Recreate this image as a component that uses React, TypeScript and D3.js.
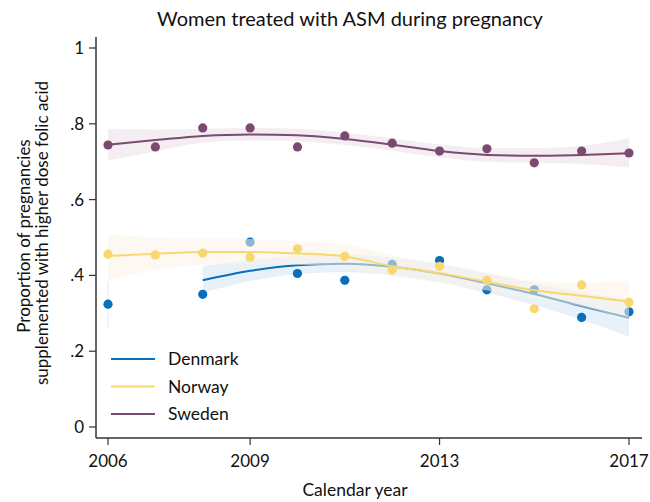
import React from 'react';
import * as d3 from 'd3';

// observed yearly proportions
const years = [2006, 2007, 2008, 2009, 2010, 2011, 2012, 2013, 2014, 2015, 2016, 2017];
const denmarkYears = [2006, 2008, 2009, 2010, 2011, 2012, 2013, 2014, 2015, 2016, 2017];
const denmarkObs = [0.324, 0.350, 0.488, 0.405, 0.387, 0.429, 0.439, 0.362, 0.362, 0.289, 0.304];
const norwayObs = [0.456, 0.454, 0.459, 0.448, 0.470, 0.450, 0.414, 0.424, 0.387, 0.312, 0.375, 0.329];
const swedenObs = [0.744, 0.739, 0.789, 0.789, 0.739, 0.768, 0.749, 0.728, 0.734, 0.697, 0.728, 0.723];

// smoothed fits with confidence bands
const denmarkFitYears = [2008, 2009, 2010, 2011, 2012, 2013, 2014, 2015, 2016, 2017];
const denmarkFit = [0.387, 0.412, 0.427, 0.431, 0.423, 0.405, 0.379, 0.351, 0.319, 0.288];
const denmarkLo = [0.354, 0.385, 0.403, 0.408, 0.400, 0.382, 0.354, 0.322, 0.283, 0.238];
const denmarkHi = [0.425, 0.440, 0.452, 0.455, 0.447, 0.430, 0.405, 0.380, 0.355, 0.338];
const denmarkLone = { year: 2006, lo: 0.264, hi: 0.383 };

const norwayFit = [0.451, 0.457, 0.462, 0.462, 0.458, 0.450, 0.424, 0.406, 0.383, 0.361, 0.346, 0.331];
const norwayLo = [0.385, 0.415, 0.428, 0.430, 0.428, 0.420, 0.398, 0.382, 0.360, 0.338, 0.318, 0.280];
const norwayHi = [0.509, 0.500, 0.498, 0.496, 0.490, 0.482, 0.452, 0.432, 0.408, 0.386, 0.380, 0.385];

const swedenFit = [0.745, 0.757, 0.768, 0.772, 0.770, 0.760, 0.745, 0.728, 0.718, 0.716, 0.718, 0.722];
const swedenLo = [0.703, 0.727, 0.750, 0.756, 0.754, 0.744, 0.729, 0.711, 0.700, 0.697, 0.694, 0.685];
const swedenHi = [0.787, 0.785, 0.787, 0.789, 0.787, 0.777, 0.762, 0.746, 0.736, 0.736, 0.742, 0.762];

const yTicks = [0, 0.2, 0.4, 0.6, 0.8, 1];
const xTicks = [2006, 2009, 2013, 2017];
const countries = ['Denmark', 'Norway', 'Sweden'];
const colors = ['#0a6fbb', '#f7d870', '#7b4a70'];

const FONT = 'Lato, "Open Sans", sans-serif';

const App = () => {
    const width = 650;
    const height = 502;
    const x = d3.scaleLinear().domain([2006, 2017]).range([108, 629]);
    const y = d3.scaleLinear().domain([0, 1]).range([427, 48]);
    const axisX = 96;
    const axisY = 438;

    const line = d3.line<[number, number]>()
        .x(d => x(d[0])).y(d => y(d[1]))
        .curve(d3.curveMonotoneX);
    const area = d3.area<[number, number, number]>()
        .x(d => x(d[0])).y0(d => y(d[1])).y1(d => y(d[2]))
        .curve(d3.curveMonotoneX);

    const zip3 = (xs: number[], a: number[], b: number[]) =>
        xs.map((v, i) => [v, a[i], b[i]] as [number, number, number]);
    const zip2 = (xs: number[], a: number[]) =>
        xs.map((v, i) => [v, a[i]] as [number, number]);

    const fmt = (v: number) => (v === 0 ? '0' : v === 1 ? '1' : d3.format('.1f')(v).replace(/^0/, ''));

    const dot = (xs: number[], vs: number[], c: string, key: string) =>
        xs.map((yr, i) => <circle key={key + yr} cx={x(yr)} cy={y(vs[i])} r={4.6} fill={c} />);

    return (
        <svg width={width} height={height} style={{ position: 'absolute', left: 0, top: 0 }}>
            <rect width={width} height={height} fill="#fff" />
            <text x={350} y={26} textAnchor="middle" fontFamily={FONT} fontSize={20} fill="#111">
                Women treated with ASM during pregnancy
            </text>

            {/* Denmark */}
            <path d={area(zip3(denmarkFitYears, denmarkLo, denmarkHi)) || ''} fill="#e8f1f9" />
            <line x1={x(denmarkLone.year)} x2={x(denmarkLone.year)}
                  y1={y(denmarkLone.lo)} y2={y(denmarkLone.hi)} stroke="#e8f1f9" strokeWidth={1.5} />
            <path d={line(zip2(denmarkFitYears, denmarkFit)) || ''} fill="none" stroke={colors[0]} strokeWidth={2} />
            {dot(denmarkYears, denmarkObs, colors[0], 'dk')}

            {/* Norway */}
            <path d={area(zip3(years, norwayLo, norwayHi)) || ''} fill="#fcf3e6" fillOpacity={0.55} />
            <path d={line(zip2(years, norwayFit)) || ''} fill="none" stroke={colors[1]} strokeWidth={2} />
            {dot(years, norwayObs, colors[1], 'no')}

            {/* Sweden */}
            <path d={area(zip3(years, swedenLo, swedenHi)) || ''} fill="#f4eef3" />
            <path d={line(zip2(years, swedenFit)) || ''} fill="none" stroke={colors[2]} strokeWidth={2} />
            {dot(years, swedenObs, colors[2], 'se')}

            {/* axes */}
            <line x1={axisX} x2={axisX} y1={37} y2={axisY} stroke="#333" strokeWidth={1.5} />
            <line x1={axisX} x2={642} y1={axisY} y2={axisY} stroke="#333" strokeWidth={1.5} />
            {yTicks.map(t => (
                <g key={'y' + t}>
                    <line x1={axisX - 7} x2={axisX} y1={y(t)} y2={y(t)} stroke="#333" strokeWidth={1.2} />
                    <text x={84} y={y(t) + 6} textAnchor="end" fontFamily={FONT} fontSize={17} fill="#111">{fmt(t)}</text>
                </g>
            ))}
            {xTicks.map(t => (
                <g key={'x' + t}>
                    <line x1={x(t)} x2={x(t)} y1={axisY} y2={axisY + 7} stroke="#333" strokeWidth={1.2} />
                    <text x={x(t)} y={467} textAnchor="middle" fontFamily={FONT} fontSize={17} fill="#111">{t}</text>
                </g>
            ))}
            <text x={355} y={496} textAnchor="middle" fontFamily={FONT} fontSize={17.5} fill="#111">Calendar year</text>
            <text transform="translate(30,236) rotate(-90)" textAnchor="middle" fontFamily={FONT} fontSize={17} fill="#111">
                Proportion of pregnancies
            </text>
            <text transform="translate(48,233) rotate(-90)" textAnchor="middle" fontFamily={FONT} fontSize={17} fill="#111">
                supplemented with higher dose folic acid
            </text>

            {/* legend */}
            {countries.map((c, i) => (
                <g key={c}>
                    <line x1={111} x2={155} y1={359 + i * 27.5} y2={359 + i * 27.5} stroke={colors[i]} strokeWidth={2} />
                    <text x={168} y={365 + i * 27.5} fontFamily={FONT} fontSize={17.5} fill="#111">{c}</text>
                </g>
            ))}
        </svg>
    );
};

export default App;
